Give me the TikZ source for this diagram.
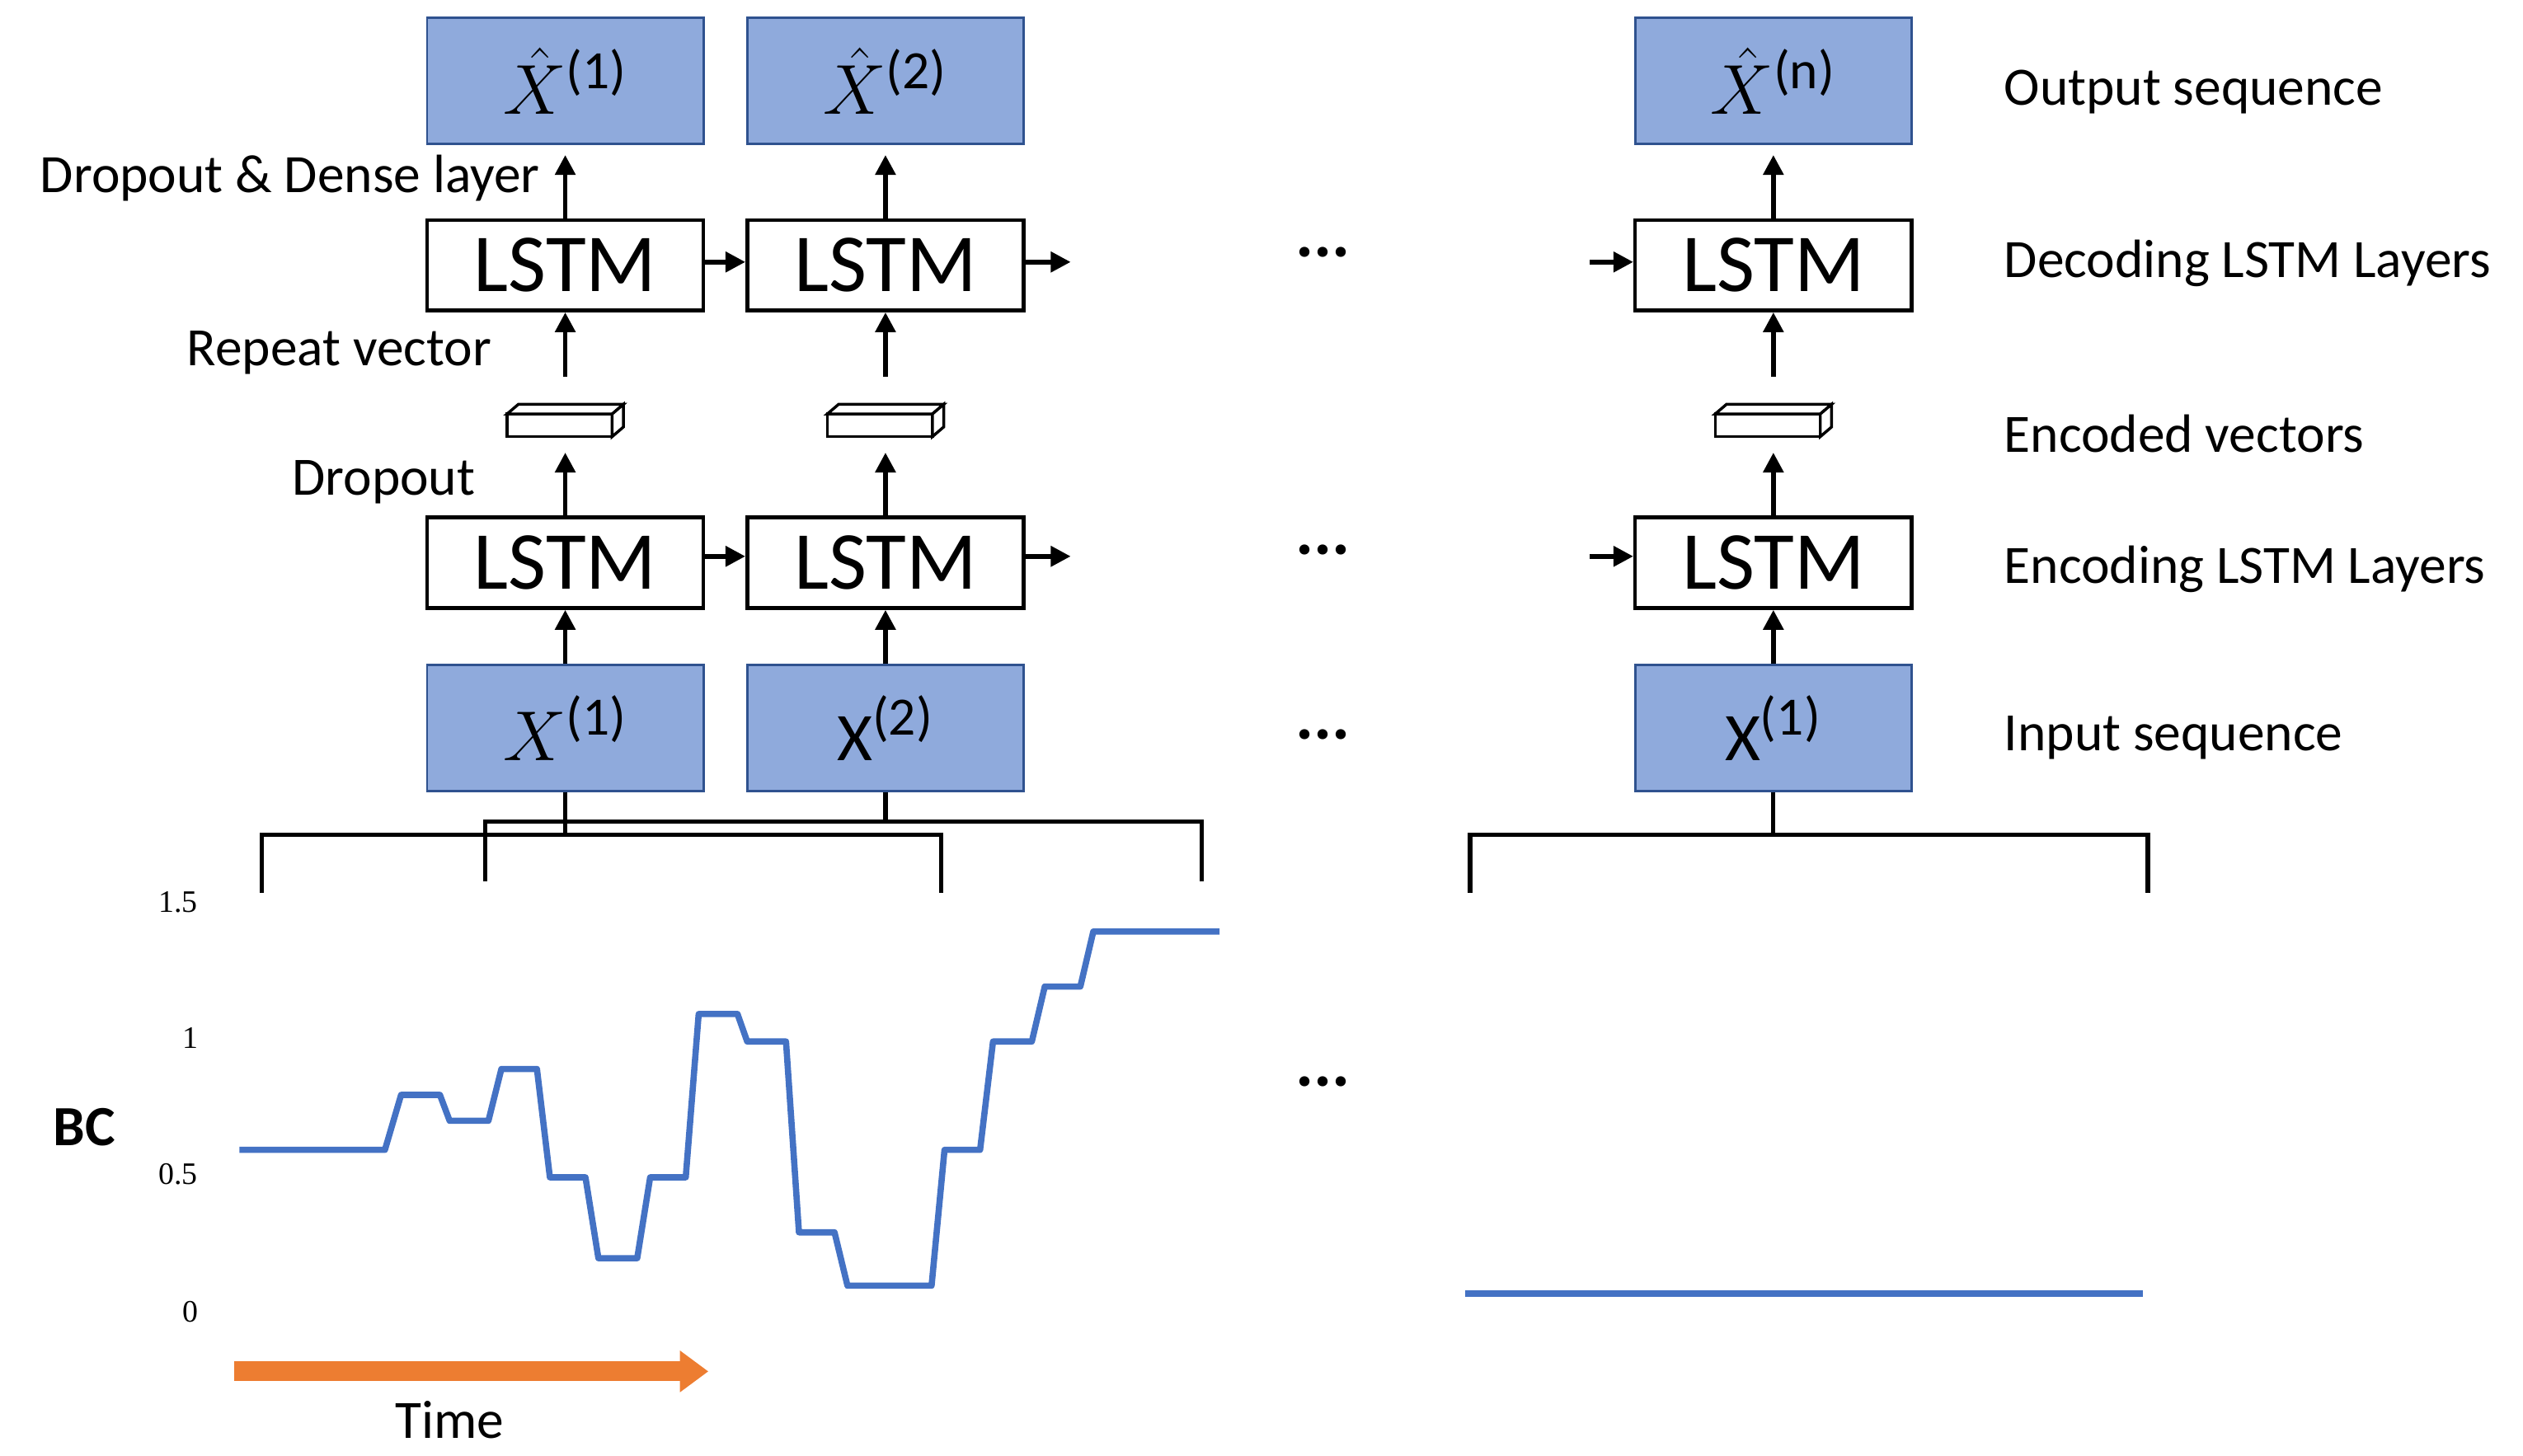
\documentclass[tikz,border=0pt]{standalone}
\usepackage{fontspec}
\setmainfont{Carlito}
\newfontfamily\serf{Liberation Serif}
\usetikzlibrary{arrows.meta}
\definecolor{boxblue}{HTML}{8FAADC}
\definecolor{boxedge}{HTML}{2F528F}
\definecolor{lineblue}{HTML}{4472C4}
\definecolor{orangec}{HTML}{ED7D31}
\begin{document}
\begin{tikzpicture}[x=0.02cm,y=-0.02cm,
  blue box/.style={draw=boxedge,line width=0.8pt,fill=boxblue,minimum width=3.42cm,minimum height=1.56cm,inner sep=0pt,font=\fontsize{24}{28}\selectfont},
  lstm/.style={draw,line width=1.3pt,fill=white,minimum width=3.42cm,minimum height=1.12cm,inner sep=0pt,font=\fontsize{29}{32}\selectfont},
  arr/.style={line width=1.6pt,-{Triangle[length=7pt,width=7pt]}},
  lab/.style={font=\fontsize{19}{22}\selectfont},
  tick/.style={font=\serf\fontsize{11}{13}\selectfont},
  dots/.style={font=\fontsize{24}{26}\selectfont\bfseries},
  brk/.style={line width=1.5pt}]
\useasboundingbox (0,0) rectangle (1560,900);
% output
\node[blue box] (o1) at (349.5,50) {$\hat{X}^{\mbox{\fontsize{19}{20}\selectfont(1)}}$};
\node[blue box] (o2) at (547.5,50) {$\hat{X}^{\mbox{\fontsize{19}{20}\selectfont(2)}}$};
\node[blue box] (on) at (1096.5,50) {$\hat{X}^{\mbox{\fontsize{19}{20}\selectfont(n)}}$};
% decoding
\node[lstm] (d1) at (349.5,164) {LSTM};
\node[lstm] (d2) at (547.5,164) {LSTM};
\node[lstm] (dn) at (1096.5,164) {LSTM};
% encoded vectors
\foreach \n/\x in {v1/349.5,v2/547.5,vn/1096.5}{
  \coordinate (\n) at (\x,263);
  \draw[line width=1pt,fill=white] (\x-36,256) rectangle (\x+29,270);
  \draw[line width=1pt,fill=white] (\x-36,256) -- (\x-29,250) -- (\x+36,250) -- (\x+29,256) -- cycle;
  \draw[line width=1pt,fill=white] (\x+29,256) -- (\x+36,250) -- (\x+36,264) -- (\x+29,270) -- cycle;
}
% encoding
\node[lstm] (e1) at (349.5,348) {LSTM};
\node[lstm] (e2) at (547.5,348) {LSTM};
\node[lstm] (en) at (1096.5,348) {LSTM};
% input
\node[blue box] (i1) at (349.5,450) {$X^{\mbox{\fontsize{19}{20}\selectfont(1)}}$};
\node[blue box] (i2) at (547.5,450) {$\mathrm{X}^{\mbox{\fontsize{19}{20}\selectfont(2)}}$};
\node[blue box] (in) at (1096.5,450) {$\mathrm{X}^{\mbox{\fontsize{19}{20}\selectfont(1)}}$};
% vertical arrows
\foreach \c in {1,2,n}{
  \draw[arr] (d\c.north) -- ++(0,-39);
  \draw[arr] (d\c.south) ++(0,40) -- (d\c.south);
  \draw[arr] (e\c.north) -- ++(0,-39);
  \draw[arr] (i\c.north) -- (e\c.south);
}
% horizontal arrows
\coordinate (dr) at (662,162); \coordinate (dl) at (983,162);
\coordinate (er) at (662,344); \coordinate (el) at (983,344);
\draw[arr] (d1.east |- 0,162) -- (d2.west |- 0,162);
\draw[arr] (d2.east |- 0,162) -- (dr);
\draw[arr] (dl) -- (dn.west |- 0,162);
\draw[arr] (e1.east |- 0,344) -- (e2.west |- 0,344);
\draw[arr] (e2.east |- 0,344) -- (er);
\draw[arr] (el) -- (en.west |- 0,344);
% dots
\foreach \y/\n in {156/a,340/b,454/c,669/d}{\node[dots] (dot\n) at (818,\y) {...};}
% labels right
\node[lab,anchor=west] (l1) at (1233,57) {Output sequence};
\node[lab,anchor=west] (l2) at (1233,163) {Decoding LSTM Layers};
\node[lab,anchor=west] (l3) at (1233,268) {Encoded vectors};
\node[lab,anchor=west] (l4) at (1233,352) {Encoding LSTM Layers};
\node[lab,anchor=west] (l5) at (1233,456) {Input sequence};
% labels left
\node[lab,anchor=east] (l6) at (340,110) {Dropout \& Dense layer};
\node[lab,anchor=east] (l7) at (310,218) {Repeat vector};
\node[lab,anchor=east] (l8) at (300,298) {Dropout};
% brackets
\draw[brk] (162,552) -- (162,516) -- (582,516) -- (582,552);
\draw[brk] (300,545) -- (300,508) -- (743,508) -- (743,545);
\draw[brk] (i1.south) -- (349.5,516);
\draw[brk] (i2.south) -- (547.5,508);
\draw[brk] (909,552) -- (909,516) -- (1328,516) -- (1328,552);
\draw[brk] (in.south) -- (1096.5,516);
% axis ticks
\node[tick] (t15) at (110,558) {1.5};
\node[tick] (t1) at (118,642) {1};
\node[tick] (t05) at (110,726) {0.5};
\node[tick] (t0) at (118,811) {0};
\node[font=\fontsize{20}{22}\selectfont\bfseries] (bc) at (52,697) {BC};
% curve
\draw[lineblue,line width=2.2pt,line join=round] (148,711)--(238,711)--(248,677)--(272,677)--(278,693)--(302,693)--(310,661)--(332,661)--(340,728)--(362,728)--(370,778)--(394,778)--(402,728)--(424,728)--(432,627)--(456,627)--(462,644)--(486,644)--(494,762)--(516,762)--(524,795)--(576,795)--(584,711)--(606,711)--(614,644)--(638,644)--(646,610)--(668,610)--(676,576)--(754,576);
\draw[lineblue,line width=2.2pt] (906,800) -- (1325,800);
% time arrow
\coordinate (ta) at (145,848); \coordinate (tb) at (438,848);
\draw[orangec,line width=7pt,-{Triangle[length=10pt,width=14pt]}] (ta) -- (tb);
\node[lab] (time) at (278,878) {Time};
\end{tikzpicture}
\end{document}
